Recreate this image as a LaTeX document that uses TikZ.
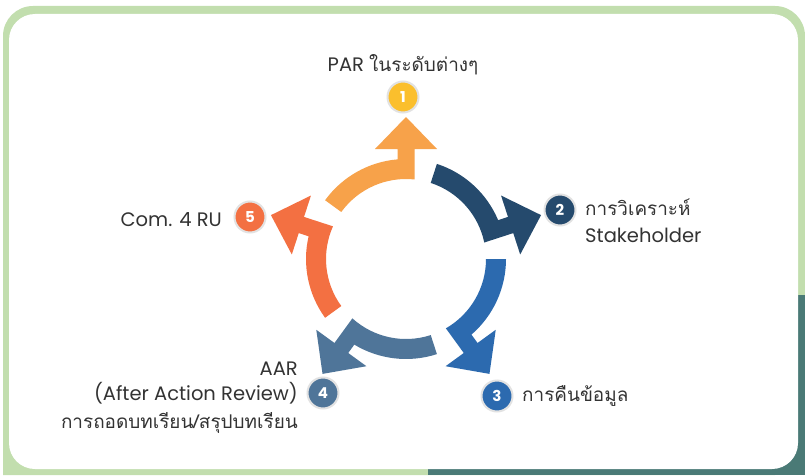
\documentclass[tikz,border=0pt]{standalone}
\usepackage{fontspec}
\setmainfont{Poppins}
\newfontfamily\thaifont[Script=Thai,Scale=0.97]{Loma}
\definecolor{frameGreen}{HTML}{C2DEAE}
\definecolor{frameTeal}{HTML}{4A7A76}
\definecolor{cOrange}{HTML}{F7A24A}
\definecolor{cGold}{HTML}{FBBF2D}
\definecolor{cNavy}{HTML}{254A6D}
\definecolor{cBlue}{HTML}{2C6AAF}
\definecolor{cSlate}{HTML}{4F7599}
\definecolor{cRed}{HTML}{F37042}
\definecolor{txt}{HTML}{333333}
\definecolor{ringGray}{HTML}{E2E2E2}
\tikzset{
  badge/.style={circle, fill=#1, draw=ringGray, line width=2pt, minimum size=31pt, inner sep=0pt,
    text=white, font=\fontsize{15}{15}\selectfont\bfseries},
  lbl/.style={text=txt, inner sep=0pt, font=\fontsize{19.5}{22}\selectfont},
}
\newcommand{\cycarrow}[2]{%
  \begin{scope}[shift={(406,216)}, rotate=#1-90]
    \fill[#2] (144:100) arc[start angle=144, end angle=94.88, radius=100]
      -- (-8.5,110) -- (-31,110) -- (0,142) -- (31,110) -- (8.5,110)
      -- (83.9:80) arc[start angle=83.9, end angle=144, radius=80] -- cycle;
  \end{scope}}
\begin{document}
\begin{tikzpicture}[x=1pt,y=1pt]
\useasboundingbox (0,0) rectangle (805,475);
% frame
\fill[frameGreen] (3,0) [rounded corners=30] -- (3,469) -- (805,469) -- (805,0) [sharp corners]-- (3,0);
\fill[frameTeal] (428,0) rectangle (805,180);
\fill[white, rounded corners=26] (9,6) rectangle (798,461);
% arrows
\cycarrow{90}{cOrange}
\cycarrow{18}{cNavy}
\cycarrow{-54}{cBlue}
\cycarrow{-126}{cSlate}
\cycarrow{162}{cRed}
% badges
\node[badge=cGold] (b1) at (403,378) {1};
\node[badge=cNavy] (b2) at (560,265) {2};
\node[badge=cBlue] (b3) at (497,79) {3};
\node[badge=cSlate] (b4) at (323,82) {4};
\node[badge=cRed] (b5) at (250,258) {5};
% labels
\node[lbl, anchor=base] (t1) at (403,403) {PAR {\thaifont ในระดับต่างๆ}};
\node[lbl, anchor=base west] (t2a) at (585,260) {\thaifont การวิเคราะห์};
\node[lbl, anchor=base west] (t2b) at (585,233) {Stakeholder};
\node[lbl, anchor=base west] (t3) at (522,74) {\thaifont การคืนข้อมูล};
\node[lbl, anchor=base east] (t4a) at (298,100) {AAR};
\node[lbl, anchor=base east] (t4b) at (298,75) {(After Action Review)};
\node[lbl, anchor=base east] (t4c) at (298,47) {\thaifont การถอดบทเรียน/สรุปบทเรียน};
\node[lbl, anchor=base east] (t5) at (222,249) {Com. 4 RU};
\end{tikzpicture}
\end{document}
